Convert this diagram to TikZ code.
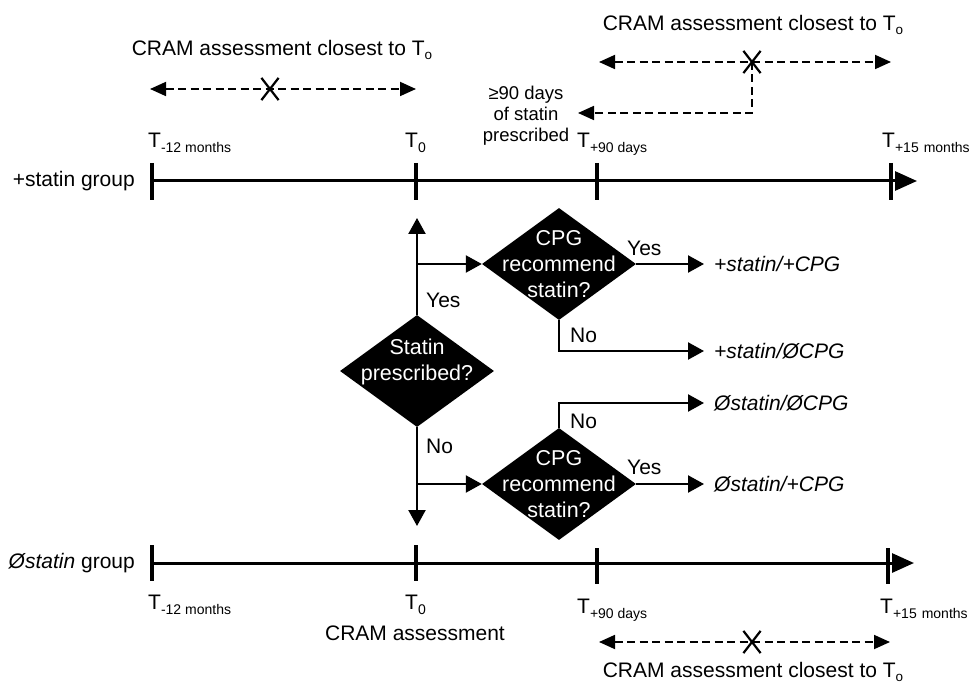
\documentclass[tikz,border=0pt]{standalone}
\usepackage{fontspec}
\setmainfont{Liberation Sans}
\usetikzlibrary{arrows.meta,shapes.geometric,shapes.misc}
\newcommand{\subT}[1]{T\raisebox{-5pt}{\fontsize{14}{15}\selectfont #1}}
\newcommand{\subTo}{T\raisebox{-4pt}{\fontsize{13.5}{14}\selectfont o}}
\begin{document}
\begin{tikzpicture}[x=1pt,y=-1pt,
  lbl/.style={font=\fontsize{21}{25}\selectfont, inner sep=0pt, align=center},
  small/.style={font=\fontsize{18.5}{21}\selectfont, inner sep=0pt, align=center},
  outc/.style={font=\fontsize{21}{25}\selectfont\itshape, inner sep=0pt, anchor=west},
  tlarrow/.style={line width=3pt, -{Triangle[length=22pt,width=19pt]}},
  tickmark/.style={line width=4pt},
  flow/.style={line width=2.3pt, -{Triangle[length=16pt,width=17pt]}},
  dline/.style={line width=1.8pt, dash pattern=on 8pt off 4.5pt},
  dtip/.style={-{Triangle[length=16pt,width=14pt]}},
  dboth/.style={dline, {Triangle[length=16pt,width=14pt]}-{Triangle[length=16pt,width=14pt]}},
  xmark/.style={draw, cross out, line width=2.2pt, minimum width=15pt, minimum height=20pt, inner sep=0pt},
  dia/.style={diamond, fill=black, inner sep=0pt, minimum width=154pt, minimum height=112pt},
  dtext/.style={font=\fontsize{21.5}{26}\selectfont, text=white, inner sep=0pt, align=center}
]
\useasboundingbox (0,0) rectangle (971,684);

% ---------- top timeline (+statin group)
\node[lbl, anchor=east] (gp) at (135,181) {+statin group};
\coordinate (p1) at (152,181);
\coordinate (p2) at (416,181);
\coordinate (p3) at (597,181);
\coordinate (p4) at (891,181);
\coordinate (pend) at (917,181);
\draw[tlarrow] (p1) -- (pend);
\foreach \c in {p1,p2,p3,p4} \draw[tickmark] ([yshift=18pt]\c) -- ([yshift=-19pt]\c);

\node[lbl, anchor=base west] (tp1) at (148,148) {\subT{-12 months}};
\node[lbl, anchor=base west] (tp2) at (405,148) {\subT{0}};
\node[lbl, anchor=base west] (tp3) at (577,148) {\subT{+90 days}};
\node[lbl, anchor=base west] (tp4) at (882,148) {\subT{+15\hspace{5pt}months}};

% top-left CRAM window
\node[lbl] (cl1) at (282,50) {CRAM assessment closest to \subTo};
\coordinate (la) at (150,89);
\coordinate (lb) at (416,89);
\node[xmark] (x1) at (270,89) {};
\draw[dboth] (la) -- (lb);

% top-right CRAM window
\node[lbl] (cl2) at (753,25) {CRAM assessment closest to \subTo};
\coordinate (ra) at (599,62);
\coordinate (rb) at (891,62);
\node[xmark] (x2) at (752,62) {};
\draw[dboth] (ra) -- (rb);
\node[small] (p90) at (526,116) {≥90 days\\of statin\\prescribed};
\coordinate (rc) at (752,113);
\coordinate (rd) at (578,113);
\draw[dline, dtip] (x2.center) -- (rc) -- (rd);

% ---------- decision diamonds
\node[dia] (d0) at (417,371) {};
\node[dtext] (t0) at (417,362) {Statin\\prescribed?};
\node[dia] (d1) at (559,264) {};
\node[dtext] (t1) at (559,264) {CPG\\recommend\\statin?};
\node[dia] (d2) at (559,484) {};
\node[dtext] (t2) at (559,484) {CPG\\recommend\\statin?};

\coordinate (up) at (417,218);
\coordinate (dn) at (417,526);
\draw[flow] (d0.north) -- (up);
\draw[flow] (d0.south) -- (dn);
\draw[flow] (d0.north |- d1.west) -- (d1.west);
\draw[flow] (d0.south |- d2.west) -- (d2.west);
\node[lbl, anchor=west] (yes0) at (426,300) {Yes};
\node[lbl, anchor=west] (no0) at (426,446) {No};

% outcomes
\node[outc] (o1) at (714,264) {+statin/+CPG};
\node[outc] (o2) at (714,351) {+statin/ØCPG};
\node[outc] (o3) at (714,403) {Østatin/ØCPG};
\node[outc] (o4) at (714,484) {Østatin/+CPG};

\draw[flow, shorten >=10pt] (d1.east) -- (o1.west);
\draw[flow, shorten >=10pt] (d1.south) |- (o2.west);
\draw[flow, shorten >=10pt] (d2.north) |- (o3.west);
\draw[flow, shorten >=10pt] (d2.east) -- (o4.west);
\node[lbl, anchor=west] (yes1) at (627,248) {Yes};
\node[lbl, anchor=west] (no1) at (570,335) {No};
\node[lbl, anchor=west] (no2) at (570,421) {No};
\node[lbl, anchor=west] (yes2) at (627,467) {Yes};

% ---------- bottom timeline (Østatin group)
\node[lbl, anchor=east] (gn) at (135,563) {\textit{Østatin} group};
\coordinate (q1) at (152,563);
\coordinate (q2) at (416,563);
\coordinate (q3) at (597,566);
\coordinate (q4) at (888,566);
\coordinate (qend) at (914,563);
\draw[tlarrow] (q1) -- (qend);
\foreach \c in {q1,q2,q3,q4} \draw[tickmark] ([yshift=18pt]\c) -- ([yshift=-18pt]\c);

\node[lbl, anchor=base west] (tq1) at (148,609) {\subT{-12 months}};
\node[lbl, anchor=base west] (tq2) at (405,609) {\subT{0}};
\node[lbl, anchor=base west] (tq3) at (577,613) {\subT{+90 days}};
\node[lbl, anchor=base west] (tq4) at (880,613) {\subT{+15\hspace{5pt}months}};
\node[lbl] (cram) at (415,633) {CRAM assessment};

\coordinate (ba) at (599,642);
\coordinate (bb) at (890,642);
\node[xmark] (x3) at (752,642) {};
\draw[dboth] (ba) -- (bb);
\node[lbl] (cl3) at (753,672) {CRAM assessment closest to \subTo};
\end{tikzpicture}
\end{document}
